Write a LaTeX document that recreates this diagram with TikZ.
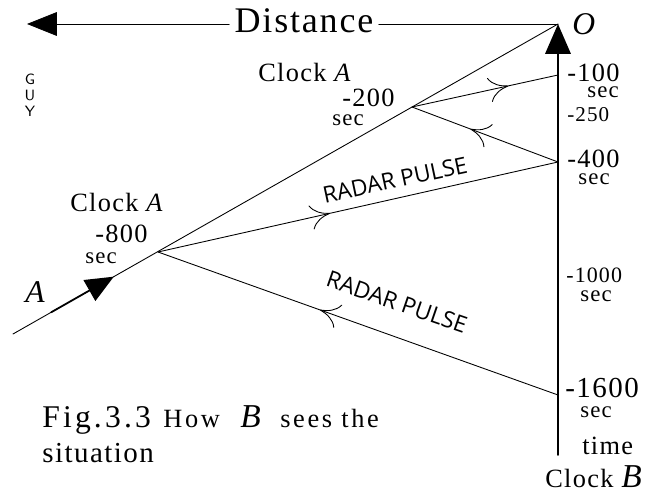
\documentclass[tikz,border=0pt]{standalone}
\usepackage{fontspec}
\setmainfont{Liberation Serif}[LetterSpace=5]
\newfontfamily\radarfont{Open Sans}
\usetikzlibrary{arrows.meta,decorations.markings,calc}

\begin{document}
\begin{tikzpicture}[line cap=round,line join=round,x=0.02cm,y=-0.02cm,
		lbl/.style={inner sep=0pt,anchor=base west},
		big/.style={lbl,font=\fontsize{15}{15}\selectfont},
		small/.style={lbl,font=\fontsize{12}{12}\selectfont},
		secs/.style={lbl,font=\fontsize{13}{13}\selectfont},
		caption/.style={lbl,font=\fontsize{15}{15}\selectfont\addfontfeature{LetterSpace=10}},
		radar/.style={line width=0.5pt,postaction={decorate},
			decoration={markings,mark=at position #1 with {\arrow{Computer Modern Rightarrow[length=11pt,width=14pt]}}}},
		pulselabel/.style={font=\radarfont\fontsize{13}{13}\selectfont,inner sep=0pt}]
		\useasboundingbox (0,0) rectangle (657,496);
		
		\coordinate (O) at (558,24);
		\coordinate (Astart) at (13,334);
		\coordinate (tbot) at (558,455);
		\coordinate (dtip) at (27,24);
		\coordinate (e800) at (158,252);
		\coordinate (e200) at (412,107);
		\coordinate (b100) at (558,75);
		\coordinate (b400) at (558,162);
		\coordinate (b1600) at (558,395);
		
		\node[font=\fontsize{20.5}{20.5}\selectfont,inner sep=3pt] (dist) at (304,21) {Distance};
		\draw[line width=0.5pt] (O) -- (dist.east |- O);
		\draw[line width=0.5pt,-{Triangle[length=17pt,width=13.5pt]}] (dist.west |- O) -- (dtip);
		\draw[line width=1pt,-{Triangle[length=17pt,width=14.5pt]}] (tbot) -- (O);
		
		\draw[line width=0.5pt] (Astart) -- (O);
		\draw[line width=1pt,-{Triangle[length=16pt,width=13.5pt]}] ($(Astart)!0.07!(O)$) -- ($(Astart)!0.185!(O)$);
		
		\draw[radar=0.43] (e800) -- (b400);
		\draw[radar=0.595] (b1600) -- (e800);
		\draw[radar=0.66] (e200) -- (b100);
		\draw[radar=0.6] (b400) -- (e200);
		
		\node[pulselabel,rotate=12] (pulseup) at (395,180) {RADAR PULSE};
		\node[pulselabel,rotate=-19] (pulsedown) at (397,302) {RADAR PULSE};
		
		\node[lbl,font=\fontsize{18}{18}\selectfont\itshape] (Olbl) at (572,35) {O};
		\node[font=\sffamily\fontsize{8.5}{9}\selectfont,align=center,inner sep=0pt] (guy) at (30,95) {G\\U\\Y};
		
		\node[big] (clockAup) at (258,82) {Clock \textit{A}};
		\node[big] (t200) at (342,107) {-200};
		\node[secs] (s200) at (332,126) {sec};
		\node[big] (clockAdown) at (70,212) {Clock \textit{A}};
		\node[big] (t800) at (95,243) {-800};
		\node[secs] (s800) at (85,264) {sec};
		\node[lbl,font=\fontsize{18}{18}\selectfont\itshape] (Albl) at (25,303) {A};
		
		\node[big] (t100) at (567,82) {-100};
		\node[secs] (s100) at (587,98) {sec};
		\node[small] (t250) at (567,122) {-250};
		\node[big] (t400) at (567,168) {-400};
		\node[secs] (s400) at (578,185) {sec};
		\node[small,font=\fontsize{12.5}{12.5}\selectfont] (t1000) at (566,283) {-1000};
		\node[secs] (s1000) at (580,302) {sec};
		\node[big,font=\fontsize{16.5}{16.5}\selectfont] (t1600) at (565,398) {-1600};
		\node[secs] (s1600) at (580,418) {sec};
		\node[big] (time) at (582,455) {time};
		\node[big] (clockB) at (545,488) {Clock \textit{\fontsize{19}{19}\selectfont B}};
		
		\node[lbl,font=\fontsize{18}{18}\selectfont\addfontfeature{LetterSpace=10}] (capfig) at (42,428) {Fig.3.3};
		\node[caption] (caphow) at (163,428) {How};
		\node[lbl,font=\fontsize{19}{19}\selectfont\itshape] (capB) at (240,428) {B};
		\node[caption] (capsees) at (280,428) {sees the};
		\node[lbl,font=\fontsize{16.5}{16.5}\selectfont] (capsit) at (42,463) {situation};
	\end{tikzpicture}
\end{document}
